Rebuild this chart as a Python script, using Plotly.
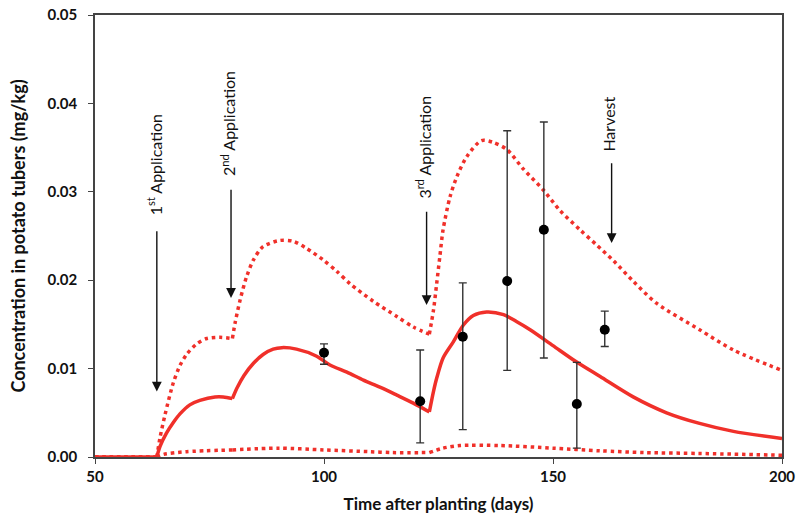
import plotly.graph_objects as go

# --- data ---
app_days = [63.5, 80.0, 123.0]          # kinks (application days)

mean_days = [50, 63.5, 64.2, 65.6, 67.1, 68.6, 70.7, 72.9, 76.2, 78.0, 80.0,
             81.0, 82.5, 84.6, 86.7, 88.9, 90.8, 94.0, 98.4, 101.3, 105.0, 108.6, 112.2, 115.9, 119.5, 123.0,
             123.9, 124.6, 126.0, 128.2, 130.4, 132.6, 135.5, 139.2, 142.1, 145.0, 150.0, 155.0,
             160.3, 167.5, 174.8, 182.0, 189.4, 200.0]
mean_vals = [0, 0, 0.0012, 0.0027, 0.0039, 0.0049, 0.0059, 0.0064, 0.0068, 0.0068, 0.0066,
             0.0078, 0.0092, 0.0106, 0.0116, 0.0122, 0.01237, 0.0122, 0.0114, 0.0104, 0.0096, 0.0087, 0.0079, 0.0070, 0.0061, 0.0051,
             0.0074, 0.0089, 0.0112, 0.0130, 0.0149, 0.0160, 0.0164, 0.0161, 0.0153, 0.0144, 0.0126, 0.0108,
             0.0091, 0.0068, 0.0050, 0.0038, 0.0029, 0.0021]

upper_days = [50, 63.5, 64.2, 65.3, 67.1, 68.6, 70.0, 72.2, 74.4, 77.3, 80.0,
              80.6, 81.7, 83.1, 84.6, 86.7, 90.4, 93.3, 96.2, 99.8, 102.8, 105.7, 110.8, 115.9, 119.5, 123.0,
              123.9, 124.6, 125.3, 126.0, 127.5, 129.0, 131.2, 134.4, 136.9, 139.9, 143.5, 147.9, 151.5,
              155.9, 159.5, 163.2, 167.5, 172.6, 182.0, 189.4, 200.0]
upper_vals = [0, 0, 0.0022, 0.0048, 0.0084, 0.0104, 0.0116, 0.0128, 0.0134, 0.01354, 0.0134,
              0.0152, 0.0178, 0.0204, 0.0223, 0.0238, 0.0245, 0.0244, 0.0236, 0.0223, 0.0210, 0.0196, 0.0176, 0.0159, 0.0147, 0.0139,
              0.0166, 0.0196, 0.0227, 0.0257, 0.0294, 0.0317, 0.0340, 0.0358, 0.0356, 0.0348, 0.0326, 0.0302, 0.0279,
              0.0257, 0.0240, 0.0222, 0.0199, 0.0174, 0.0144, 0.0121, 0.0098]

lower_days = [50, 63.5, 65, 70, 80, 90, 100, 110, 115, 123, 126, 129.7, 138.4, 150, 160.3, 170, 182, 200]
lower_vals = [0, 0, 0.0003, 0.0006, 0.0008, 0.0010, 0.0008, 0.0006, 0.0005, 0.0005, 0.0010, 0.0013, 0.0013, 0.0010, 0.0007, 0.0005, 0.0004, 0.0002]

obs_days = [100, 121, 130.3, 140, 148, 155.2, 161.3]
obs_vals = [0.0118, 0.0063, 0.0136, 0.0199, 0.0257, 0.0060, 0.0144]
obs_hi = [0.0128, 0.0121, 0.0197, 0.0369, 0.0379, 0.0107, 0.0165]
obs_lo = [0.0105, 0.0016, 0.0031, 0.0098, 0.0112, 0.0010, 0.0125]

events = ["1<sup>st</sup> Application", "2<sup>nd</sup> Application",
          "3<sup>rd</sup> Application", "Harvest"]
event_days = [63.5, 79.7, 122.4, 162.8]
event_tip = [0.0074, 0.0180, 0.0172, 0.0242]
event_tail = [0.0257, 0.0304, 0.0279, 0.0334]
event_label_y = [0.0330, 0.0377, 0.0351, 0.0377]

RED = "#f0302a"
fig = go.Figure()


def segments(days, vals):
    bounds = [days[0]] + app_days + [days[-1]]
    out = []
    for a, b in zip(bounds[:-1], bounds[1:]):
        xs = [d for d in days if a <= d <= b]
        ys = [v for d, v in zip(days, vals) if a <= d <= b]
        out.append((xs, ys))
    return out


for (xs, ys) in segments(upper_days, upper_vals):
    fig.add_trace(go.Scatter(x=xs, y=ys, mode="lines", line=dict(color=RED, width=3.5, dash="3.5px,3.8px", shape="spline", smoothing=0.8), hoverinfo="skip"))
for (xs, ys) in segments(lower_days, lower_vals):
    fig.add_trace(go.Scatter(x=xs, y=ys, mode="lines", line=dict(color=RED, width=3.5, dash="3.5px,3.8px", shape="spline", smoothing=0.8), hoverinfo="skip"))
for (xs, ys) in segments(mean_days, mean_vals):
    fig.add_trace(go.Scatter(x=xs, y=ys, mode="lines", line=dict(color=RED, width=3.5, shape="spline", smoothing=0.8), hoverinfo="skip"))

fig.add_trace(go.Scatter(
    x=obs_days, y=obs_vals, mode="markers",
    marker=dict(color="black", size=10),
    error_y=dict(type="data", symmetric=False,
                 array=[h - v for h, v in zip(obs_hi, obs_vals)],
                 arrayminus=[v - l for l, v in zip(obs_lo, obs_vals)],
                 color="#333333", thickness=1.4, width=4),
    hoverinfo="skip",
))

for name, d, tip, tail, ly in zip(events, event_days, event_tip, event_tail, event_label_y):
    fig.add_annotation(x=d, y=tip, ax=d, ay=tail, axref="x", ayref="y", xref="x", yref="y",
                       text="", showarrow=True, arrowhead=2, arrowsize=1.4, arrowwidth=1.4,
                       arrowcolor="#111111")
    fig.add_annotation(x=d - 0.6, y=ly, xref="x", yref="y", text=name, textangle=-90, showarrow=False,
                       font=dict(family="Lato", size=16, color="#111111"))

fig.update_layout(
    width=799, height=524,
    margin=dict(l=95, r=17, t=15, b=67),
    paper_bgcolor="white", plot_bgcolor="white",
    showlegend=False,
    font=dict(family="Lato", color="#111111"),
)
fig.update_xaxes(range=[50, 200], tickvals=[50, 100, 150, 200], showgrid=False, zeroline=False,
                 automargin=False,
                 showline=True, linecolor="#444444", linewidth=1.5, mirror=True,
                 ticks="outside", ticklen=5, tickcolor="#444444", tickwidth=1.3,
                 tickfont=dict(family="Lato", size=15, color="#111111", weight="bold"),
                 title=dict(text="Time after planting (days)", font=dict(family="Lato", size=17, weight="bold"), standoff=14))
fig.update_yaxes(range=[0, 0.05], tickvals=[0, 0.01, 0.02, 0.03, 0.04, 0.05], tickformat=".2f",
                 showgrid=False, zeroline=False, automargin=False,
                 showline=True, linecolor="#444444", linewidth=1.5, mirror=True,
                 ticks="outside", ticklen=5, tickcolor="#444444", tickwidth=1.3,
                 ticklabelstandoff=8,
                 tickfont=dict(family="Lato", size=15, color="#111111", weight="bold"),
                 title=dict(text="Concentration in potato tubers (mg/kg)", font=dict(family="Lato", size=18, weight="bold"), standoff=17))

fig.write_html("out.html", config={"displayModeBar": False},
               post_script="document.body.style.margin='0';")
